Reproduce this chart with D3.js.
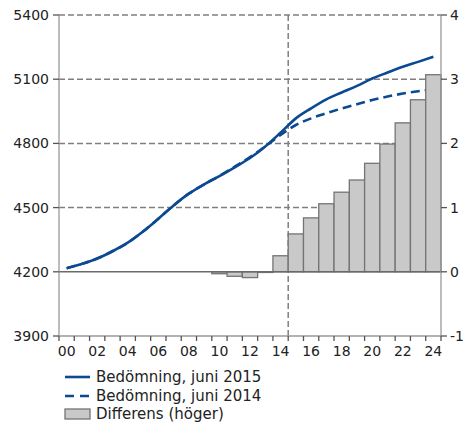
<!DOCTYPE html>
<html>
<head>
<meta charset="utf-8">
<script src="https://cdn.jsdelivr.net/npm/d3@7"></script>
<style>
  html, body { margin: 0; padding: 0; background: #fff; }
  svg { display: block; font-family: "DejaVu Sans", Verdana, sans-serif; }
</style>
</head>
<body>
<svg id="chart" width="465" height="423"></svg>
<script>
// ---- data ----
const years = [2000,2001,2002,2003,2004,2005,2006,2007,2008,2009,2010,2011,2012,
               2013,2014,2015,2016,2017,2018,2019,2020,2021,2022,2023,2024];
const xTickLabels = ["00","02","04","06","08","10","12","14","16","18","20","22","24"];
const june2015 = [4217,4237,4262,4296,4336,4388,4448,4510,4565,4609,4647,4688,4732,
                  4786,4850,4917,4964,5006,5038,5069,5103,5131,5158,5181,5205];
const june2014 = [4217,4237,4262,4296,4336,4388,4448,4510,4565,4609,4648,4691,4736,
                  4786,4840,4886,4917,4941,4963,4983,5003,5019,5033,5044,5052];
const diff     = [0,0,0,0,0,0,0,0,0,0,-0.03,-0.07,-0.09,
                  -0.01,0.25,0.59,0.84,1.06,1.24,1.43,1.69,1.99,2.32,2.68,3.07];
const leftTicks = [3900,4200,4500,4800,5100,5400];
const rightTicks = [-1,0,1,2,3,4];
const legendLabels = ["Bedömning, juni 2015","Bedömning, juni 2014","Differens (höger)"];

// ---- layout ----
const L = 59, R = 441, T = 15, B = 336;
const blue = "#0b4a92", grid = "#7f7f7f", axisCol = "#9a9a9a", textCol = "#222";
const fs = 14;

const svg = d3.select("#chart");
const x = d3.scaleBand().domain(years).range([L, R]).padding(0);
const bw = x.bandwidth();
const yL = d3.scaleLinear().domain([3900, 5400]).range([B, T]);
const yR = d3.scaleLinear().domain([-1, 4]).range([B, T]);

// horizontal dashed grid
svg.append("g").selectAll("line").data([4500,4800,5100,5400]).join("line")
  .attr("x1", L).attr("x2", R).attr("y1", d => yL(d)).attr("y2", d => yL(d))
  .attr("stroke", grid).attr("stroke-width", 1.5).attr("stroke-dasharray", "6,3");

// vertical dashed line at end of 2014
const vx = x(2014) + bw;
svg.append("line").attr("x1", vx).attr("x2", vx).attr("y1", T).attr("y2", B)
  .attr("stroke", grid).attr("stroke-width", 1.5).attr("stroke-dasharray", "6,3");

// lines
const cx = (d, i) => x(years[i]) + bw / 2;
const line = d3.line().x(cx).y(d => yL(d)).curve(d3.curveMonotoneX);
svg.append("path").datum(june2014).attr("d", line).attr("fill", "none")
  .attr("stroke", blue).attr("stroke-width", 2.6).attr("stroke-dasharray", "9,5");
svg.append("path").datum(june2015).attr("d", line).attr("fill", "none")
  .attr("stroke", blue).attr("stroke-width", 2.6);

// bars
const barData = years.map((yr, i) => ({ year: yr, v: diff[i] })).filter(d => d.v !== 0);
svg.append("g").selectAll("rect").data(barData).join("rect")
  .attr("x", d => x(d.year))
  .attr("width", bw)
  .attr("y", d => Math.min(yR(d.v), yR(0)))
  .attr("height", d => Math.abs(yR(d.v) - yR(0)))
  .attr("fill", "#c9c9c9").attr("stroke", "#747474").attr("stroke-width", 1.3);

// zero line (4200)
svg.append("line").attr("x1", L).attr("x2", R).attr("y1", yL(4200)).attr("y2", yL(4200))
  .attr("stroke", "#6a6a6a").attr("stroke-width", 1.6);

// axes lines
svg.append("line").attr("x1", L).attr("x2", L).attr("y1", T).attr("y2", B)
  .attr("stroke", axisCol).attr("stroke-width", 1.3);
svg.append("line").attr("x1", R).attr("x2", R).attr("y1", T).attr("y2", B)
  .attr("stroke", axisCol).attr("stroke-width", 1.3);
svg.append("line").attr("x1", L).attr("x2", R).attr("y1", B).attr("y2", B)
  .attr("stroke", axisCol).attr("stroke-width", 1.3);

// left ticks & labels
const gl = svg.append("g");
gl.selectAll("line").data(leftTicks).join("line")
  .attr("x1", L - 6).attr("x2", L).attr("y1", d => yL(d)).attr("y2", d => yL(d))
  .attr("stroke", "#555").attr("stroke-width", 1.3);
gl.selectAll("text").data(leftTicks).join("text")
  .attr("x", L - 10).attr("y", d => yL(d)).attr("dy", "0.36em")
  .attr("text-anchor", "end").attr("font-size", fs).attr("fill", textCol).text(d => d);

// right ticks & labels
const gr = svg.append("g");
gr.selectAll("line").data(rightTicks).join("line")
  .attr("x1", R).attr("x2", R + 6).attr("y1", d => yR(d)).attr("y2", d => yR(d))
  .attr("stroke", "#555").attr("stroke-width", 1.3);
gr.selectAll("text").data(rightTicks).join("text")
  .attr("x", R + 9).attr("y", d => yR(d)).attr("dy", "0.36em")
  .attr("text-anchor", "start").attr("font-size", fs).attr("fill", textCol).text(d => d);

// bottom ticks at band boundaries
const gb = svg.append("g");
gb.selectAll("line").data(years.concat([null])).join("line")
  .attr("x1", (d, i) => i < years.length ? x(d) : R)
  .attr("x2", (d, i) => i < years.length ? x(d) : R)
  .attr("y1", B).attr("y2", B + 5)
  .attr("stroke", "#555").attr("stroke-width", 1.3);
gb.selectAll("text").data(xTickLabels).join("text")
  .attr("x", (d, i) => x(years[i * 2]) + bw / 2)
  .attr("y", B + 20)
  .attr("text-anchor", "middle").attr("font-size", fs).attr("fill", textCol).text(d => d);

// legend
const lg = svg.append("g");
const ly = [377, 396, 414];
lg.append("line").attr("x1", 65).attr("x2", 90).attr("y1", ly[0]).attr("y2", ly[0])
  .attr("stroke", blue).attr("stroke-width", 2.6);
lg.append("line").attr("x1", 65).attr("x2", 90).attr("y1", ly[1]).attr("y2", ly[1])
  .attr("stroke", blue).attr("stroke-width", 2.6).attr("stroke-dasharray", "9,6");
lg.append("rect").attr("x", 65).attr("y", ly[2] - 5).attr("width", 25).attr("height", 10)
  .attr("fill", "#c9c9c9").attr("stroke", "#747474").attr("stroke-width", 1.3);
lg.selectAll("text").data(legendLabels).join("text")
  .attr("x", 96).attr("y", (d, i) => ly[i]).attr("dy", "0.36em")
  .attr("font-size", 15).attr("fill", textCol).text(d => d);
</script>
</body>
</html>
